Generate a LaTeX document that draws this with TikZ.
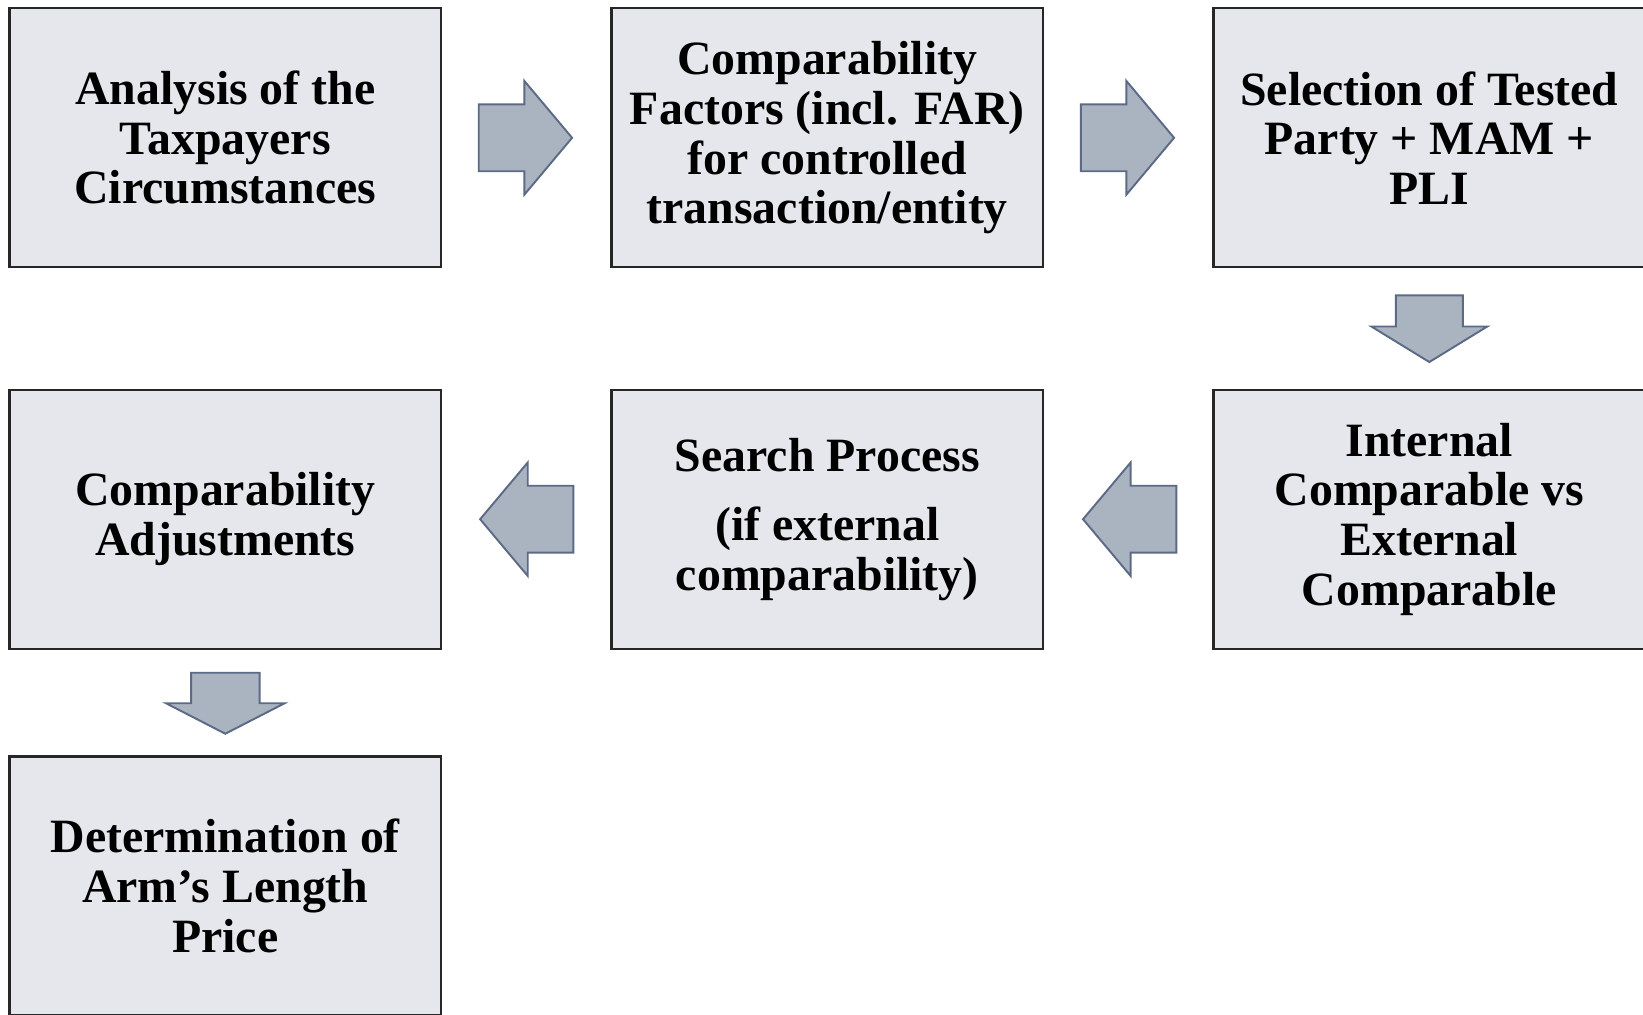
\documentclass[tikz,border=0pt]{standalone}
\usepackage{xcolor}
\usepackage{fontspec}
\setmainfont{Liberation Serif}
\usepackage{tikz}
\usetikzlibrary{shapes.arrows, calc}

\begin{document}
\begin{tikzpicture}[node distance=12.04cm]
	\definecolor{boxgrey}{RGB}{230,231,236}
	\definecolor{arrowfill}{RGB}{170,180,193}
	\definecolor{arrowline}{RGB}{92,106,134}
	\tikzstyle{stage} = [rectangle, minimum width=8.634cm, minimum height=5.176cm, text centered, align=center, draw=black!85, line width=1.2pt, fill=boxgrey, font=\fontsize{27.2}{28.2}\selectfont\bfseries]
	\tikzstyle{blockarrow} = [single arrow, anchor=tail, draw=arrowline, line width=1.1pt, fill=arrowfill, inner xsep=0pt, inner ysep=0.65cm, minimum height=1.866cm, single arrow head extend=0.466cm, single arrow tip angle=100]
	\tikzstyle{downarrow} = [blockarrow, shape border rotate=270, inner xsep=0.65cm, inner ysep=0pt, minimum height=1.334cm, single arrow head extend=0.49cm, single arrow tip angle=117]

	\clip (0,0) rectangle (32.86,-20.28);

	\node (analysis) [stage] at (4.506,-2.756) {Analysis of the\\Taxpayers\\Circumstances};
	\node (factors) [stage, right of=analysis] {Comparability\\Factors (incl. FAR)\\for controlled\\transaction/entity};
	\node (selection) [stage, right of=factors] {Selection of Tested\\Party + MAM +\\PLI};
	\node (internal) [stage, below of=selection, node distance=7.628cm] {Internal\\Comparable vs\\External\\Comparable};
	\node (search) [stage, left of=internal] {Search Process\\[0.4cm](if external\\comparability)};
	\node (adjust) [stage, left of=search] {Comparability\\Adjustments};
	\node (price) [stage, below of=adjust, node distance=7.334cm] {Determination of\\Arm’s Length\\Price};

	% block arrows between the stages
	\node (arr1) [blockarrow] at ($(analysis.east)+(0.712,0)$) {};
	\node (arr2) [blockarrow] at ($(factors.east)+(0.712,0)$) {};
	\node (arr3) [downarrow] at ($(selection.south)+(0,-0.522)$) {};
	\node (arr4) [blockarrow, shape border rotate=180] at ($(internal.west)+(-0.702,0)$) {};
	\node (arr5) [blockarrow, shape border rotate=180] at ($(search.west)+(-0.72,0)$) {};
	\node (arr6) [downarrow, inner xsep=0.666cm, minimum height=1.22cm, single arrow head extend=0.5cm, single arrow tip angle=125.6] at ($(adjust.south)+(0,-0.442)$) {};
\end{tikzpicture}
\end{document}
